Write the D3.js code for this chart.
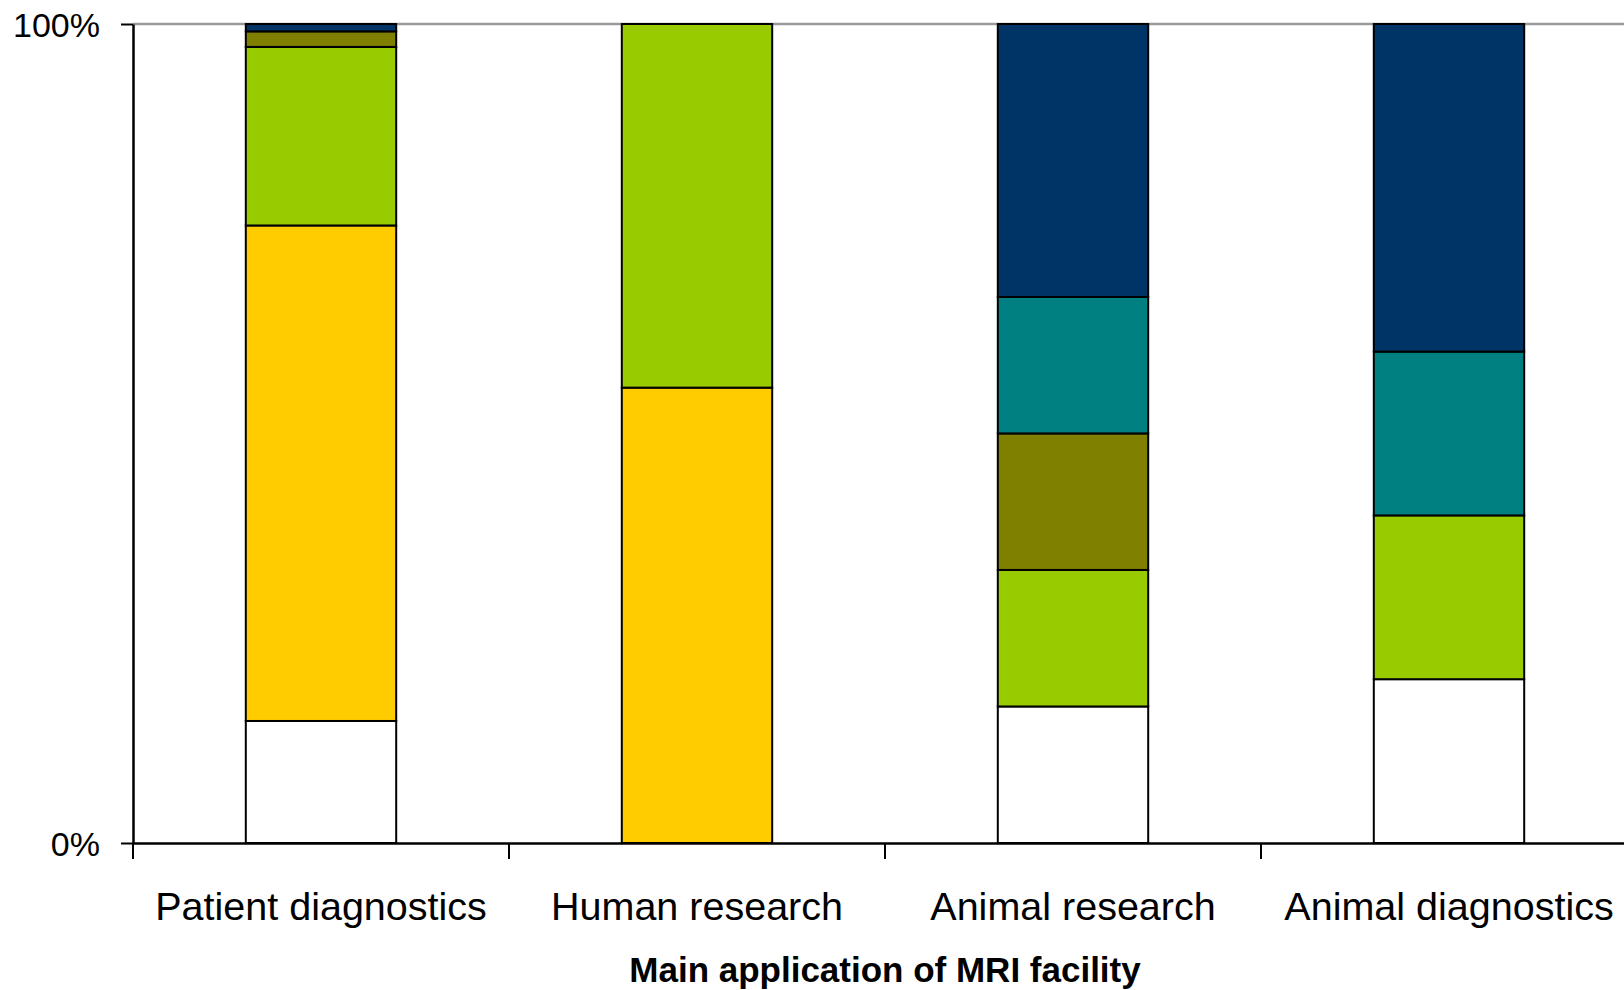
<!DOCTYPE html>
<html>
<head>
<meta charset="utf-8">
<script src="https://cdn.jsdelivr.net/npm/d3@7"></script>
<style>
  html, body { margin: 0; padding: 0; background: #fff; }
  svg { display: block; font-family: "Liberation Sans", Arial, sans-serif; }
</style>
</head>
<body>
<svg id="chart" width="1624" height="990"></svg>
<script>
// Main application categories along the x axis
const categories = ["Patient diagnostics", "Human research", "Animal research", "Animal diagnostics"];

// Share of facilities per segment, bottom to top of each column
const seriesKeys = ["s1", "s2", "s3", "s4", "s5", "s6"];
const s1 = [0.149, 0.000, 0.1667, 0.200];   // white
const s2 = [0.605, 0.556, 0.000, 0.000];    // yellow
const s3 = [0.218, 0.444, 0.1667, 0.200];   // light green
const s4 = [0.019, 0.000, 0.1667, 0.000];   // olive
const s5 = [0.000, 0.000, 0.1666, 0.200];   // teal
const s6 = [0.009, 0.000, 0.3333, 0.400];   // navy
const seriesColors = ["#FFFFFF", "#FFCC00", "#99CC00", "#808000", "#008080", "#003366"];

const yTickValues = [0, 1];
const xTitle = "Main application of MRI facility";

const seriesValues = [s1, s2, s3, s4, s5, s6];
const rows = categories.map((c, i) => {
  const r = { category: c };
  seriesKeys.forEach((k, j) => { r[k] = seriesValues[j][i]; });
  return r;
});

const svg = d3.select("#chart");
const plotLeft = 133, plotRight = 1637, plotTop = 24, plotBottom = 843;

const x = d3.scaleBand()
  .domain(categories)
  .range([plotLeft, plotRight])
  .paddingInner(0.6)
  .paddingOuter(0.3);

const y = d3.scaleLinear().domain([0, 1]).range([plotBottom, plotTop]);
const color = d3.scaleOrdinal().domain(seriesKeys).range(seriesColors);

// gridline at 100%
svg.append("line")
  .attr("x1", plotLeft).attr("x2", 1624)
  .attr("y1", y(1)).attr("y2", y(1))
  .attr("stroke", "#9a9a9a").attr("stroke-width", 2.5);

// stacked columns
const stacked = d3.stack().keys(seriesKeys)(rows);
svg.append("g")
  .selectAll("g")
  .data(stacked)
  .join("g")
  .attr("fill", d => color(d.key))
  .selectAll("rect")
  .data(d => d.filter(p => p[1] - p[0] > 0))
  .join("rect")
  .attr("x", d => x(d.data.category))
  .attr("width", x.bandwidth())
  .attr("y", d => y(d[1]))
  .attr("height", d => y(d[0]) - y(d[1]))
  .attr("stroke", "#000")
  .attr("stroke-width", 2);

// y axis
const yAxis = svg.append("g")
  .attr("transform", `translate(${plotLeft},0)`)
  .call(d3.axisLeft(y).tickValues(yTickValues).tickFormat(d3.format(".0%")).tickSize(12).tickSizeOuter(0).tickPadding(20));
yAxis.select(".domain").attr("stroke", "#000").attr("stroke-width", 2.5);
yAxis.selectAll(".tick line").attr("stroke", "#000").attr("stroke-width", 2);
yAxis.selectAll(".tick text")
  .attr("fill", "#000")
  .attr("font-size", 34)
  .attr("font-family", "Liberation Sans, Arial, sans-serif")
  .attr("dy", "0.36em")
  .attr("x", -33);

// x axis: baseline, category labels centred on each band
const xAxis = svg.append("g")
  .attr("transform", `translate(0,${plotBottom})`)
  .call(d3.axisBottom(x).tickSize(0).tickSizeOuter(0));
xAxis.select(".domain").attr("stroke", "#000").attr("stroke-width", 2.5);
xAxis.selectAll(".tick text")
  .attr("fill", "#000")
  .attr("font-size", 39.5)
  .attr("font-family", "Liberation Sans, Arial, sans-serif")
  .attr("dy", null)
  .attr("y", 77);

// tick marks between categories
const step = x.step();
const boundaries = categories.map(c => x(c) - step * x.paddingOuter());
svg.append("g")
  .selectAll("line")
  .data(boundaries)
  .join("line")
  .attr("x1", d => d).attr("x2", d => d)
  .attr("y1", plotBottom).attr("y2", plotBottom + 16)
  .attr("stroke", "#000").attr("stroke-width", 2);

// x axis title
svg.append("text")
  .attr("x", (plotLeft + plotRight) / 2)
  .attr("y", 982)
  .attr("text-anchor", "middle")
  .attr("font-size", 35)
  .attr("font-weight", "bold")
  .attr("fill", "#000")
  .text(xTitle);
</script>
</body>
</html>
